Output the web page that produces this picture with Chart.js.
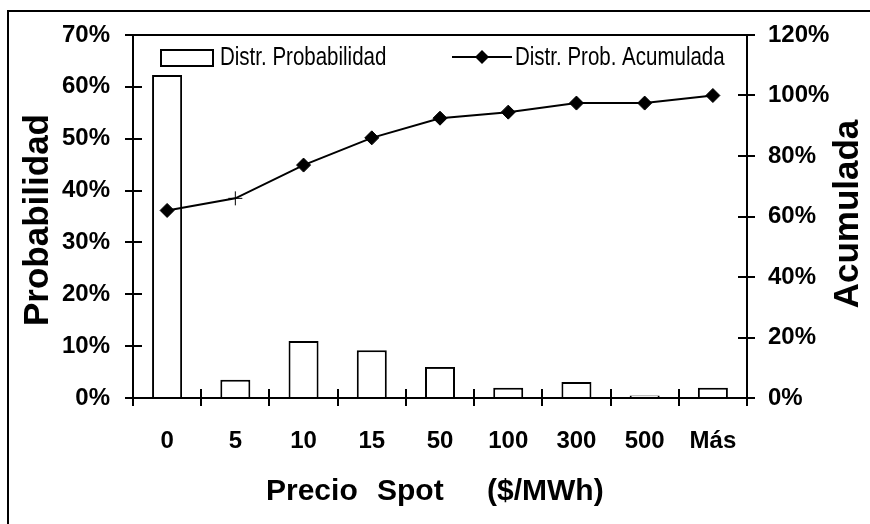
<!DOCTYPE html>
<html>
<head>
<meta charset="utf-8">
<script src="https://cdn.jsdelivr.net/npm/chart.js@4"></script>
<style>
  body { margin: 0; background: #fff; }
  canvas { display: block; }
</style>
</head>
<body>
<canvas id="chart" width="870" height="524"></canvas>
<script>
const categories = ['0', '5', '10', '15', '50', '100', '300', '500', 'Más'];
const probabilidad = [62.3, 3.5, 11.0, 9.2, 6.0, 2.0, 3.1, 0.5, 2.0];
const acumulada = [62, 66, 77, 86, 92.5, 94.5, 97.5, 97.5, 100];
const markerStyles = ['rectRot', 'cross', 'rectRot', 'rectRot', 'rectRot', 'rectRot', 'rectRot', 'rectRot', 'rectRot'];

Chart.defaults.font.family = '"Liberation Sans", Arial, sans-serif';
Chart.defaults.color = '#000';

const tickFont = { size: 24, weight: 'bold' };

// frame, plot top border, tick marks that cross the axes, titles, legend
const decor = {
  id: 'decor',
  beforeDraw(chart) {
    const c = chart.ctx;
    c.save();
    c.fillStyle = '#fff';
    c.fillRect(0, 0, chart.width, chart.height);
    c.fillStyle = '#000';
    c.fillRect(7, 10, 2, chart.height - 10);
    c.fillRect(7, 10, chart.width - 7, 2);
    c.restore();
  },
  afterDraw(chart) {
    const c = chart.ctx;
    const sy = chart.scales.y, sy2 = chart.scales.y2, sx = chart.scales.x;
    const L = Math.round(sx.left), R = Math.round(sx.right);
    const T = Math.round(sy.top), B = Math.round(sy.bottom);
    c.save();
    c.fillStyle = '#000';
    c.fillRect(L - 8, T - 1, R - L + 14, 2);
    for (let i = 0; i < sy.ticks.length; i++) {
      const py = Math.round(sy.getPixelForTick(i));
      c.fillRect(L, py - 1, 9, 2);
    }
    for (let i = 0; i < sy2.ticks.length; i++) {
      const py = Math.round(sy2.getPixelForTick(i));
      c.fillRect(R - 9, py - 1, 9, 2);
    }
    const n = sx.ticks.length;
    for (let i = 0; i <= n; i++) {
      const px = Math.round(L + i * (R - L) / n);
      c.fillRect(px - 1, B - 9, 2, 9);
    }

    // axis titles
    c.font = 'bold 35px "Liberation Sans", Arial';
    c.textAlign = 'center';
    c.textBaseline = 'alphabetic';
    c.save();
    c.translate(48, 220);
    c.rotate(-Math.PI / 2);
    c.fillText('Probabilidad', 0, 0);
    c.restore();
    c.save();
    c.translate(858, 214);
    c.rotate(-Math.PI / 2);
    c.fillText('Acumulada', 0, 0);
    c.restore();

    c.font = 'bold 30px "Liberation Sans", Arial';
    c.textAlign = 'left';
    c.fillText('Precio', 266, 500);
    c.fillText('Spot', 377, 500);
    c.fillText('($/MWh)', 487, 500);

    // legend
    c.strokeStyle = '#000';
    c.lineWidth = 2;
    c.fillStyle = '#fff';
    c.fillRect(161, 50, 52, 16);
    c.strokeRect(161, 50, 52, 16);
    c.fillStyle = '#000';
    c.fillRect(452, 56, 60, 2);
    c.beginPath();
    c.moveTo(482, 50); c.lineTo(489, 57); c.lineTo(482, 64); c.lineTo(475, 57);
    c.closePath();
    c.fill();
    c.font = '25px "Liberation Sans", Arial';
    c.save();
    c.translate(220, 65);
    c.scale(0.82, 1);
    c.fillText('Distr. Probabilidad', 0, 0);
    c.restore();
    c.save();
    c.translate(515, 65);
    c.scale(0.82, 1);
    c.fillText('Distr. Prob. Acumulada', 0, 0);
    c.restore();
    c.restore();
  }
};

new Chart(document.getElementById('chart'), {
  data: {
    labels: categories,
    datasets: [{
      type: 'line',
      label: 'Distr. Prob. Acumulada',
      data: acumulada,
      yAxisID: 'y2',
      order: 1,
      borderColor: '#000',
      borderWidth: 2,
      tension: 0,
      pointStyle: markerStyles,
      pointRadius: 7,
      pointBackgroundColor: '#000',
      pointBorderColor: '#000',
      pointBorderWidth: 1
    }, {
      type: 'bar',
      label: 'Distr. Probabilidad',
      data: probabilidad,
      yAxisID: 'y',
      order: 2,
      backgroundColor: '#fff',
      borderColor: '#000',
      borderWidth: 2,
      barPercentage: 0.44,
      categoryPercentage: 1
    }]
  },
  options: {
    responsive: false,
    devicePixelRatio: 1,
    animation: false,
    layout: { padding: { left: 0, right: 0, top: 35, bottom: 0 } },
    plugins: {
      legend: { display: false },
      tooltip: { enabled: false }
    },
    scales: {
      x: {
        grid: { drawOnChartArea: false, tickLength: 8, lineWidth: 2, color: '#000', offset: true },
        border: { display: true, width: 2, color: '#000' },
        ticks: { font: tickFont, padding: 21, maxRotation: 0 },
        afterFit: s => { s.height = 126; }
      },
      y: {
        position: 'left',
        min: 0, max: 70,
        grid: { drawOnChartArea: false, tickLength: 8, lineWidth: 2, color: '#000' },
        border: { display: true, width: 2, color: '#000' },
        ticks: { stepSize: 10, font: tickFont, padding: 15, callback: v => v + '%' },
        afterFit: s => { s.width = 133; }
      },
      y2: {
        position: 'right',
        min: 0, max: 120,
        grid: { drawOnChartArea: false, tickLength: 8, lineWidth: 2, color: '#000' },
        border: { display: true, width: 2, color: '#000' },
        ticks: { stepSize: 20, font: tickFont, padding: 13, callback: v => v + '%' },
        afterFit: s => { s.width = 123; }
      }
    }
  },
  plugins: [decor]
});
</script>
</body>
</html>
